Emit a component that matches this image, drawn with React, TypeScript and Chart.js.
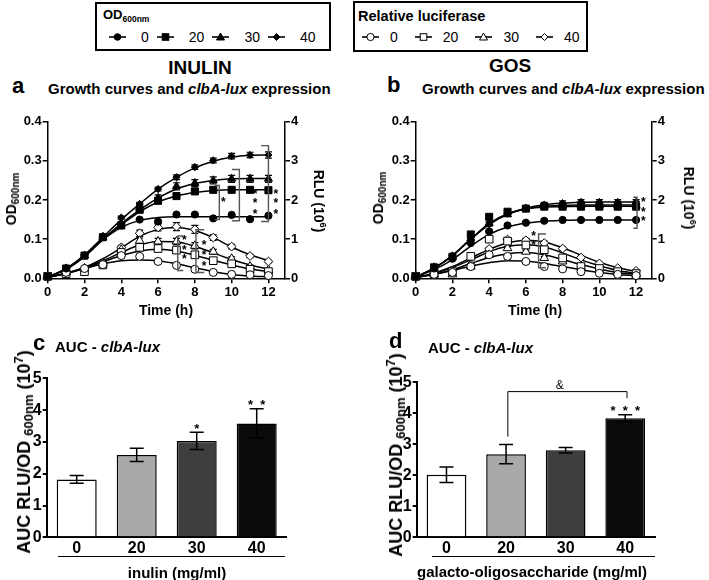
import React, { useEffect, useRef } from 'react';
import { Chart, registerables } from 'chart.js';

Chart.register(...registerables);

const FONT = "'Liberation Sans', Arial, Helvetica, sans-serif";
Chart.defaults.font.family = FONT;
Chart.defaults.color = '#000';

// ---------- data ----------
const HOURS = [0, 1, 2, 3, 4, 5, 6, 7, 8, 9, 10, 11, 12];
const X_TICKS = [0, 2, 4, 6, 8, 10, 12];
const OD_TICKS = [0, 0.1, 0.2, 0.3, 0.4];
const RLU_TICKS = [0, 1, 2, 3, 4];
const AUC_TICKS = [0, 1, 2, 3, 4, 5];
const CONC = ['0', '20', '30', '40'];

// Panel a (inulin) - OD600 points (0, 20, 30, 40 mg/ml)
const A_OD_0 = [0.005, 0.025, 0.058, 0.105, 0.135, 0.15, 0.145, 0.163, 0.163, 0.153, 0.162, 0.151, 0.16];
const A_OD_20 = [0.005, 0.025, 0.058, 0.105, 0.135, 0.175, 0.198, 0.21, 0.222, 0.226, 0.226, 0.226, 0.225];
const A_OD_30 = [0.005, 0.025, 0.058, 0.105, 0.14, 0.18, 0.205, 0.235, 0.243, 0.25, 0.254, 0.254, 0.254];
const A_OD_40 = [0.005, 0.025, 0.06, 0.108, 0.155, 0.19, 0.228, 0.258, 0.284, 0.301, 0.312, 0.315, 0.315];
const A_OD_FIT_0 = [0.003, 0.022, 0.055, 0.098, 0.13, 0.148, 0.155, 0.157, 0.157, 0.157, 0.157, 0.157, 0.157];
const A_OD_FIT_20 = [0.003, 0.024, 0.057, 0.1, 0.137, 0.17, 0.195, 0.21, 0.219, 0.224, 0.226, 0.226, 0.226];
const A_OD_FIT_30 = [0.003, 0.024, 0.057, 0.1, 0.14, 0.175, 0.205, 0.228, 0.242, 0.25, 0.254, 0.255, 0.255];
const A_OD_FIT_40 = [0.003, 0.025, 0.06, 0.105, 0.15, 0.19, 0.228, 0.258, 0.282, 0.299, 0.309, 0.314, 0.315];
const A_OD_ERR_0 = [0, 0, 0, 0, 0.002, 0.002, 0.003, 0.002, 0.002, 0.002, 0.002, 0.002, 0.002];
const A_OD_ERR_20 = [0, 0, 0, 0, 0.004, 0.005, 0.006, 0.006, 0.006, 0.006, 0.006, 0.006, 0.006];
const A_OD_ERR_30 = [0, 0, 0, 0, 0.005, 0.007, 0.008, 0.009, 0.009, 0.009, 0.009, 0.009, 0.009];
const A_OD_ERR_40 = [0, 0, 0, 0, 0.004, 0.004, 0.005, 0.006, 0.006, 0.006, 0.007, 0.007, 0.008];
// Panel a - relative luciferase (RLU x10^6)
const A_LUX_0 = [0.05, 0.15, 0.25, 0.35, 0.58, 0.56, 0.43, 0.33, 0.23, 0.15, 0.1, 0.09, 0.07];
const A_LUX_20 = [0.05, 0.12, 0.17, 0.34, 0.66, 0.79, 0.76, 0.72, 0.6, 0.45, 0.37, 0.23, 0.17];
const A_LUX_30 = [0.05, 0.15, 0.25, 0.38, 0.73, 0.96, 0.94, 0.94, 0.83, 0.68, 0.5, 0.3, 0.21];
const A_LUX_40 = [0.05, 0.15, 0.25, 0.4, 0.79, 1.15, 1.3, 1.32, 1.25, 1.04, 0.81, 0.57, 0.43];
const A_LUX_FIT_0 = [0.02, 0.12, 0.25, 0.37, 0.45, 0.47, 0.45, 0.37, 0.27, 0.17, 0.1, 0.06, 0.04];
const A_LUX_FIT_20 = [0.02, 0.13, 0.26, 0.42, 0.58, 0.7, 0.74, 0.7, 0.59, 0.46, 0.34, 0.24, 0.17];
const A_LUX_FIT_30 = [0.02, 0.13, 0.27, 0.45, 0.66, 0.85, 0.94, 0.93, 0.82, 0.65, 0.48, 0.34, 0.24];
const A_LUX_FIT_40 = [0.02, 0.13, 0.28, 0.5, 0.78, 1.07, 1.25, 1.3, 1.22, 1.04, 0.8, 0.6, 0.45];
const A_LUX_ERR_0 = [0, 0, 0, 0, 0.03, 0.04, 0.04, 0.04, 0.03, 0.03, 0.02, 0.02, 0.02];
const A_LUX_ERR_20 = [0, 0, 0, 0, 0.05, 0.06, 0.06, 0.07, 0.06, 0.05, 0.04, 0.03, 0.03];
const A_LUX_ERR_30 = [0, 0, 0, 0, 0.05, 0.07, 0.08, 0.08, 0.08, 0.06, 0.05, 0.04, 0.03];
const A_LUX_ERR_40 = [0, 0, 0, 0, 0.05, 0.08, 0.09, 0.1, 0.1, 0.07, 0.06, 0.04, 0.03];

// Panel b (GOS) - OD600
const B_OD_0 = [0.005, 0.025, 0.05, 0.09, 0.12, 0.135, 0.142, 0.147, 0.149, 0.149, 0.149, 0.149, 0.149];
const B_OD_20 = [0.005, 0.028, 0.055, 0.112, 0.157, 0.17, 0.178, 0.183, 0.183, 0.183, 0.183, 0.183, 0.183];
const B_OD_30 = [0.005, 0.028, 0.055, 0.102, 0.14, 0.163, 0.178, 0.185, 0.186, 0.186, 0.186, 0.186, 0.186];
const B_OD_40 = [0.005, 0.028, 0.058, 0.1, 0.138, 0.165, 0.178, 0.188, 0.192, 0.195, 0.195, 0.195, 0.195];
const B_OD_FIT_0 = [0.003, 0.022, 0.048, 0.082, 0.112, 0.131, 0.141, 0.146, 0.148, 0.149, 0.149, 0.149, 0.149];
const B_OD_FIT_20 = [0.003, 0.026, 0.058, 0.1, 0.14, 0.165, 0.177, 0.182, 0.183, 0.184, 0.184, 0.184, 0.184];
const B_OD_FIT_30 = [0.003, 0.026, 0.058, 0.1, 0.138, 0.163, 0.177, 0.184, 0.186, 0.187, 0.187, 0.187, 0.187];
const B_OD_FIT_40 = [0.003, 0.026, 0.058, 0.1, 0.138, 0.164, 0.179, 0.188, 0.192, 0.194, 0.195, 0.195, 0.195];
const B_OD_ERR_0 = [0, 0, 0, 0, 0.002, 0.002, 0.002, 0.002, 0.002, 0.002, 0.002, 0.002, 0.002];
const B_OD_ERR_20 = [0, 0, 0, 0, 0.004, 0.004, 0.004, 0.004, 0.004, 0.004, 0.004, 0.004, 0.004];
const B_OD_ERR_30 = [0, 0, 0, 0, 0.004, 0.004, 0.005, 0.005, 0.005, 0.005, 0.005, 0.005, 0.005];
const B_OD_ERR_40 = [0, 0, 0, 0, 0.004, 0.004, 0.005, 0.006, 0.006, 0.006, 0.006, 0.006, 0.006];
// Panel b - relative luciferase
const B_LUX_0 = [0.05, 0.1, 0.15, 0.3, 0.6, 0.56, 0.43, 0.3, 0.24, 0.17, 0.13, 0.1, 0.07];
const B_LUX_20 = [0.05, 0.12, 0.17, 0.56, 1.0, 0.95, 0.85, 0.73, 0.52, 0.3, 0.25, 0.17, 0.12];
const B_LUX_30 = [0.05, 0.1, 0.1, 0.3, 0.6, 0.77, 0.68, 0.52, 0.43, 0.3, 0.2, 0.14, 0.1];
const B_LUX_40 = [0.05, 0.13, 0.2, 0.35, 0.75, 0.99, 0.97, 0.9, 0.76, 0.53, 0.38, 0.26, 0.19];
const B_LUX_FIT_0 = [0.02, 0.1, 0.2, 0.31, 0.4, 0.45, 0.44, 0.38, 0.3, 0.22, 0.15, 0.1, 0.07];
const B_LUX_FIT_20 = [0.02, 0.12, 0.28, 0.47, 0.68, 0.82, 0.86, 0.8, 0.65, 0.47, 0.32, 0.2, 0.13];
const B_LUX_FIT_30 = [0.02, 0.1, 0.22, 0.38, 0.53, 0.63, 0.66, 0.6, 0.48, 0.35, 0.24, 0.15, 0.1];
const B_LUX_FIT_40 = [0.02, 0.13, 0.3, 0.52, 0.74, 0.9, 0.97, 0.93, 0.78, 0.59, 0.41, 0.27, 0.18];
const B_LUX_ERR_0 = [0, 0, 0, 0, 0.02, 0.03, 0.03, 0.03, 0.02, 0.02, 0.02, 0.01, 0.01];
const B_LUX_ERR_20 = [0, 0, 0, 0, 0.04, 0.05, 0.05, 0.05, 0.04, 0.03, 0.03, 0.02, 0.02];
const B_LUX_ERR_30 = [0, 0, 0, 0, 0.03, 0.04, 0.04, 0.04, 0.03, 0.03, 0.02, 0.02, 0.02];
const B_LUX_ERR_40 = [0, 0, 0, 0, 0.04, 0.05, 0.05, 0.05, 0.04, 0.03, 0.03, 0.02, 0.02];

// Panels c, d - AUC RLU/OD600 (x10^7)
const AUC_INULIN = [1.82, 2.59, 3.03, 3.58];
const AUC_INULIN_ERR = [0.12, 0.21, 0.27, 0.46];
const AUC_GOS = [2.02, 2.68, 2.81, 3.84];
const AUC_GOS_ERR = [0.25, 0.31, 0.09, 0.11];

// significance annotations (data units)
const A_BRACKETS = [
  { x: 9.33, y1: 0.237, y2: 0.15, tick: -0.25 },
  { x: 10.42, y1: 0.278, y2: 0.147, tick: -0.4 },
  { x: 12, y1: 0.339, y2: 0.145, tick: -0.4 },
  { x: 7.07, y1: 0.108, y2: 0.02, tick: 0.3 },
  { x: 8.06, y1: 0.124, y2: 0.015, tick: 0.45 },
];
const A_STARS = [
  [9.55, 0.2], [11.27, 0.222], [11.27, 0.197], [11.27, 0.171],
  [12.4, 0.222], [12.4, 0.197], [12.4, 0.171],
  [7.43, 0.103], [7.43, 0.079], [7.43, 0.056],
  [8.5, 0.091], [8.5, 0.066], [8.5, 0.038],
];
const B_BRACKETS = [
  { x: 12.05, y1: 0.207, y2: 0.128, tick: -0.2 },
  { x: 6.69, y1: 0.113, y2: 0.027, tick: 0.4 },
];
const B_STARS = [[12.4, 0.2], [12.4, 0.176], [12.4, 0.151], [6.42, 0.113], [6.42, 0.09]];
const C_MARKS = [{ x: 2, y: 3.5, t: '*' }, { x: 3, y: 4.25, t: '*  *' }];
const D_MARKS = [{ x: 3, y: 4.16, t: '*  *  *' }];
const D_AMP = { x: 1.9, y: 4.9, t: '&' };
const D_LINK = [[1.03, 3.25], [1.03, 4.7], [3.03, 4.7], [3.03, 4.49]];

// ---------- styles ----------
const OD_MARK = [
  { style: 'circle', r: 3.6 },
  { style: 'rect', r: 5 },
  { style: 'triangle', r: 4.6 },
  { style: 'rectRot', r: 3.6 },
];
const LUX_MARK = [
  { style: 'circle', r: 4 },
  { style: 'rect', r: 5.4 },
  { style: 'triangle', r: 5 },
  { style: 'rectRot', r: 4.4 },
];
const BAR_COLORS = ['#ffffff', '#a9a9a9', '#3e3e3e', '#0b0b0b'];

// ---------- plugins ----------
const errorBarPlugin = {
  id: 'errbars',
  draw(chart: any, after: boolean) {
    const ctx = chart.ctx;
    chart.data.datasets.forEach((ds: any, i: number) => {
      if (!ds.errors || !!ds.errAfter !== after) return;
      const meta = chart.getDatasetMeta(i);
      const ys = chart.scales[meta.yAxisID];
      ctx.save();
      ctx.strokeStyle = '#000';
      ctx.lineWidth = ds.errWidth || 1.2;
      meta.data.forEach((el: any, j: number) => {
        const e = ds.errors[j];
        if (!e) return;
        const raw = ds.data[j];
        const v = typeof raw === 'number' ? raw : raw.y;
        const x = el.x;
        const y1 = ys.getPixelForValue(v + e);
        const y2 = ys.getPixelForValue(v - e);
        const c = ds.capHalf || 3.5;
        ctx.beginPath();
        ctx.moveTo(x, y1); ctx.lineTo(x, y2);
        ctx.moveTo(x - c, y1); ctx.lineTo(x + c, y1);
        ctx.moveTo(x - c, y2); ctx.lineTo(x + c, y2);
        ctx.stroke();
      });
      ctx.restore();
    });
  },
  beforeDatasetsDraw(chart: any) { this.draw(chart, false); },
  afterDatasetsDraw(chart: any) { this.draw(chart, true); },
};

type Line = { pts: number[][]; color: string; width: number };
type Mark = { x: number; y: number; t: string; font: string; dy: number };

function annotPlugin(lines: Line[], marks: Mark[]) {
  return {
    id: 'annot',
    afterDraw(chart: any) {
      const ctx = chart.ctx;
      const xs = chart.scales.x;
      const ys = chart.scales.y;
      ctx.save();
      lines.forEach((l) => {
        ctx.strokeStyle = l.color;
        ctx.lineWidth = l.width;
        ctx.beginPath();
        l.pts.forEach(([px, py], k) => {
          const X = xs.getPixelForValue(px);
          const Y = ys.getPixelForValue(py);
          if (k) ctx.lineTo(X, Y); else ctx.moveTo(X, Y);
        });
        ctx.stroke();
      });
      ctx.fillStyle = '#000';
      ctx.textAlign = 'center';
      ctx.textBaseline = 'middle';
      marks.forEach((m) => {
        ctx.font = m.font;
        ctx.fillText(m.t, xs.getPixelForValue(m.x), ys.getPixelForValue(m.y) + m.dy);
      });
      ctx.restore();
    },
  };
}

const bracketLines = (bs: { x: number; y1: number; y2: number; tick: number }[]): Line[] =>
  bs.map((b) => ({
    pts: [[b.x + b.tick, b.y1], [b.x, b.y1], [b.x, b.y2], [b.x + b.tick, b.y2]],
    color: '#555',
    width: 1.4,
  }));
const starMarks = (ss: number[][]): Mark[] =>
  ss.map(([x, y]) => ({ x, y, t: '*', font: `bold 12px ${FONT}`, dy: 3 }));

// ---------- chart configs ----------
interface LineSpec {
  odPts: number[][]; odFit: number[][]; odErr: number[][];
  luxPts: number[][]; luxFit: number[][]; luxErr: number[][];
  xMax: number; leftW: number; rightW: number; bottomH: number; padTop: number;
}

const tickFont13 = { size: 13, weight: 'bold' as const, family: FONT };
const tickFont16 = { size: 16, weight: 'bold' as const, family: FONT };

function lineConfig(s: LineSpec, plugin: any) {
  const toXY = (vals: number[]) => HOURS.map((h, j) => ({ x: h, y: vals[j] }));
  const datasets: any[] = [];
  for (let i = 0; i < 4; i++) {
    datasets.push({
      data: toXY(s.odPts[i]), showLine: false, yAxisID: 'y', order: 0, clip: false,
      pointStyle: OD_MARK[i].style, pointRadius: OD_MARK[i].r, pointHoverRadius: OD_MARK[i].r,
      pointBackgroundColor: '#000', pointBorderColor: '#000', pointBorderWidth: 1,
      errors: s.odErr[i],
    });
    datasets.push({
      data: toXY(s.luxPts[i]), showLine: false, yAxisID: 'y2', order: 0, clip: false,
      pointStyle: LUX_MARK[i].style, pointRadius: LUX_MARK[i].r, pointHoverRadius: LUX_MARK[i].r,
      pointBackgroundColor: '#fff', pointBorderColor: '#000', pointBorderWidth: 1,
      errors: s.luxErr[i],
    });
    datasets.push({
      data: toXY(s.odFit[i]), yAxisID: 'y', order: 1, pointRadius: 0, pointHoverRadius: 0,
      borderColor: '#000', borderWidth: 1.5, cubicInterpolationMode: 'monotone', fill: false,
    });
    datasets.push({
      data: toXY(s.luxFit[i]), yAxisID: 'y2', order: 1, pointRadius: 0, pointHoverRadius: 0,
      borderColor: '#000', borderWidth: 1.5, cubicInterpolationMode: 'monotone', fill: false,
    });
  }
  const grid = { drawOnChartArea: false, color: '#000', lineWidth: 1.5, tickLength: 5 };
  const border = { color: '#000', width: 1.5 };
  return {
    type: 'line',
    data: { datasets },
    options: {
      animation: false, responsive: false, maintainAspectRatio: false,
      events: [],
      layout: { padding: { top: s.padTop, left: 0, right: 0, bottom: 0 } },
      plugins: { legend: { display: false }, tooltip: { enabled: false } },
      scales: {
        x: {
          type: 'linear', min: 0, max: s.xMax, grid, border,
          ticks: { font: tickFont13, color: '#000', padding: 1, maxRotation: 0 },
          afterBuildTicks: (sc: any) => { sc.ticks = X_TICKS.map((v) => ({ value: v })); },
          afterFit: (sc: any) => { sc.height = s.bottomH; },
        },
        y: {
          type: 'linear', position: 'left', min: 0, max: 0.4, grid, border,
          ticks: { font: tickFont13, color: '#000', padding: 1, callback: (v: any) => Number(v).toFixed(1) },
          afterBuildTicks: (sc: any) => { sc.ticks = OD_TICKS.map((v) => ({ value: v })); },
          afterFit: (sc: any) => { sc.width = s.leftW; },
        },
        y2: {
          type: 'linear', position: 'right', min: 0, max: 4, grid, border,
          ticks: { font: tickFont13, color: '#000', padding: 1, callback: (v: any) => String(v) },
          afterBuildTicks: (sc: any) => { sc.ticks = RLU_TICKS.map((v) => ({ value: v })); },
          afterFit: (sc: any) => { sc.width = s.rightW; },
        },
      },
    },
    plugins: [errorBarPlugin, plugin],
  };
}

function barConfig(vals: number[], errs: number[], o: { leftW: number; bottomH: number; padTop: number; padRight: number }, plugin: any) {
  return {
    type: 'bar',
    data: {
      labels: CONC,
      datasets: [{
        data: vals, backgroundColor: BAR_COLORS, borderColor: '#000', borderWidth: 1.5,
        barPercentage: 0.667, categoryPercentage: 1, errors: errs, errAfter: true, capHalf: 7, errWidth: 1.5,
      }],
    },
    options: {
      animation: false, responsive: false, maintainAspectRatio: false, events: [],
      layout: { padding: { top: o.padTop, right: o.padRight, left: 0, bottom: 0 } },
      plugins: { legend: { display: false }, tooltip: { enabled: false } },
      scales: {
        x: {
          type: 'category', grid: { display: false, drawTicks: false },
          border: { color: '#000', width: 2 },
          ticks: { font: tickFont16, color: '#000', padding: 2 },
          afterFit: (sc: any) => { sc.height = o.bottomH; },
        },
        y: {
          type: 'linear', min: 0, max: 5,
          grid: { drawOnChartArea: false, color: '#000', lineWidth: 2, tickLength: 4 },
          border: { color: '#000', width: 2 },
          ticks: { font: tickFont16, color: '#000', padding: 1, callback: (v: any) => String(v) },
          afterBuildTicks: (sc: any) => { sc.ticks = AUC_TICKS.map((v) => ({ value: v })); },
          afterFit: (sc: any) => { sc.width = o.leftW; },
        },
      },
    },
    plugins: [errorBarPlugin, plugin],
  };
}

// ---------- components ----------
function ChartCanvas({ left, top, width, height, make }: { left: number; top: number; width: number; height: number; make: () => any }) {
  const ref = useRef<HTMLCanvasElement>(null);
  useEffect(() => {
    const chart = new Chart(ref.current as HTMLCanvasElement, make());
    return () => chart.destroy();
  }, []);
  return (
    <canvas ref={ref} width={width} height={height}
      style={{ position: 'absolute', left, top, width, height }} />
  );
}

function Txt({ x, y, size, weight = 'bold', align = 'left', rotate = 0, children }: any) {
  const tx = align === 'center' || rotate ? '-50%' : align === 'right' ? '-100%' : '0';
  return (
    <div style={{
      position: 'absolute', left: x, top: y, fontSize: size, fontWeight: weight, lineHeight: 1,
      whiteSpace: 'nowrap', transform: `translate(${tx}, -50%)${rotate ? ` rotate(${rotate}deg)` : ''}`,
    }}>{children}</div>
  );
}

function Sym({ kind, open }: { kind: number; open: boolean }) {
  const fill = open ? '#fff' : '#000';
  const c = 8.5, m = 5;
  let shape: any;
  if (kind === 0) shape = <circle cx={c} cy={m} r={open ? 3.6 : 3.3} fill={fill} stroke="#000" strokeWidth={1} />;
  else if (kind === 1) shape = <rect x={c - 3.3} y={m - 3.3} width={6.6} height={6.6} fill={fill} stroke="#000" strokeWidth={1} />;
  else if (kind === 2) shape = <polygon points={`${c},${m - 4} ${c + 4},${m + 3} ${c - 4},${m + 3}`} fill={fill} stroke="#000" strokeWidth={1} />;
  else shape = <polygon points={`${c},${m - 3.5} ${c + 3.5},${m} ${c},${m + 3.5} ${c - 3.5},${m}`} fill={fill} stroke="#000" strokeWidth={1} />;
  return (
    <svg width={17} height={10} style={{ display: 'block' }}>
      <line x1={0} y1={m} x2={17} y2={m} stroke="#000" strokeWidth={1.6} />
      {shape}
    </svg>
  );
}

function LegendRow({ x, y, open, g1, g2 }: { x: number; y: number; open: boolean; g1: number; g2: number }) {
  return (
    <div style={{ position: 'absolute', left: x, top: y, transform: 'translateY(-50%)', display: 'flex', alignItems: 'center', fontSize: 14, lineHeight: 1, fontWeight: 'normal' }}>
      {CONC.map((c, i) => (
        <React.Fragment key={c}>
          <Sym kind={i} open={open} />
          <span style={{ marginLeft: g1, marginRight: i < 3 ? g2 : 0 }}>{c}</span>
        </React.Fragment>
      ))}
    </div>
  );
}

const Sub = ({ size, dy, children, weight = 'bold' }: any) => (
  <span style={{ fontSize: size, position: 'relative', top: dy, fontWeight: weight }}>{children}</span>
);

export default function App() {
  const aLines = bracketLines(A_BRACKETS);
  const aMarks = starMarks(A_STARS);
  const bLines = bracketLines(B_BRACKETS);
  const bMarks = starMarks(B_STARS);
  const cMarks: Mark[] = C_MARKS.map((m) => ({ ...m, font: `bold 13px ${FONT}`, dy: 3 }));
  const dMarks: Mark[] = [
    ...D_MARKS.map((m) => ({ ...m, font: `bold 13px ${FONT}`, dy: 3 })),
    { ...D_AMP, font: `12px ${FONT}`, dy: 0 },
  ];
  const dLines: Line[] = [{ pts: D_LINK, color: '#000', width: 1 }];

  const makeA = () => lineConfig({
    odPts: [A_OD_0, A_OD_20, A_OD_30, A_OD_40],
    odFit: [A_OD_FIT_0, A_OD_FIT_20, A_OD_FIT_30, A_OD_FIT_40],
    odErr: [A_OD_ERR_0, A_OD_ERR_20, A_OD_ERR_30, A_OD_ERR_40],
    luxPts: [A_LUX_0, A_LUX_20, A_LUX_30, A_LUX_40],
    luxFit: [A_LUX_FIT_0, A_LUX_FIT_20, A_LUX_FIT_30, A_LUX_FIT_40],
    luxErr: [A_LUX_ERR_0, A_LUX_ERR_20, A_LUX_ERR_30, A_LUX_ERR_40],
    xMax: 12.9, leftW: 47.7, rightW: 65, bottomH: 41.7, padTop: 11.7,
  }, annotPlugin(aLines, aMarks));

  const makeB = () => lineConfig({
    odPts: [B_OD_0, B_OD_20, B_OD_30, B_OD_40],
    odFit: [B_OD_FIT_0, B_OD_FIT_20, B_OD_FIT_30, B_OD_FIT_40],
    odErr: [B_OD_ERR_0, B_OD_ERR_20, B_OD_ERR_30, B_OD_ERR_40],
    luxPts: [B_LUX_0, B_LUX_20, B_LUX_30, B_LUX_40],
    luxFit: [B_LUX_FIT_0, B_LUX_FIT_20, B_LUX_FIT_30, B_LUX_FIT_40],
    luxErr: [B_LUX_ERR_0, B_LUX_ERR_20, B_LUX_ERR_30, B_LUX_ERR_40],
    xMax: 12.85, leftW: 55.7, rightW: 57.3, bottomH: 41.7, padTop: 11.7,
  }, annotPlugin(bLines, bMarks));

  const makeC = () => barConfig(AUC_INULIN, AUC_INULIN_ERR, { leftW: 46.7, bottomH: 22.7, padTop: 18.3, padRight: 63.3 }, annotPlugin([], cMarks));
  const makeD = () => barConfig(AUC_GOS, AUC_GOS_ERR, { leftW: 56.7, bottomH: 22.7, padTop: 22.3, padRight: 54 }, annotPlugin(dLines, dMarks));

  const odLabel = (
    <span>OD<Sub size={10} dy={3}>600nm</Sub></span>
  );
  const rluLabel = (
    <span>RLU (10<Sub size={9} dy={-6}>6</Sub>)</span>
  );
  const aucLabel = (
    <span>AUC RLU/OD <Sub size={13} dy={3}>600nm</Sub> (10<Sub size={13} dy={-7}>7</Sub>)</span>
  );
  const growth = (<span>Growth curves and <i>clbA-lux</i> expression</span>);
  const aucTitle = (<span>AUC - <i>clbA-lux</i></span>);

  return (
    <div style={{ position: 'absolute', left: 0, top: 0, width: 709, height: 580, background: '#fff', color: '#000', fontFamily: FONT, overflow: 'hidden' }}>
      {/* legend boxes */}
      <div style={{ position: 'absolute', left: 95, top: 2, width: 236, height: 49, border: '2px solid #000', boxSizing: 'border-box' }} />
      <Txt x={103} y={14} size={13}>OD<Sub size={8.5} dy={3}>600nm</Sub></Txt>
      <LegendRow x={109} y={36.5} open={false} g1={15} g2={8} />
      <div style={{ position: 'absolute', left: 353, top: 1, width: 235, height: 51, border: '2px solid #000', boxSizing: 'border-box' }} />
      <Txt x={358} y={16} size={14.5}>Relative luciferase</Txt>
      <LegendRow x={362} y={37} open={true} g1={11} g2={17} />

      {/* titles */}
      <Txt x={200} y={66.5} size={19} align="center">INULIN</Txt>
      <Txt x={510} y={65} size={19} align="center">GOS</Txt>
      <Txt x={12} y={86} size={22}>a</Txt>
      <Txt x={48} y={88} size={15}>{growth}</Txt>
      <Txt x={387} y={85} size={22}>b</Txt>
      <Txt x={422} y={88} size={15}>{growth}</Txt>

      {/* panel a */}
      <ChartCanvas left={0} top={110} width={350} height={210} make={makeA} />
      <Txt x={11} y={199} size={14} rotate={-90}>{odLabel}</Txt>
      <Txt x={319} y={201} size={14} rotate={90}>{rluLabel}</Txt>
      <Txt x={166} y={310} size={14} align="center">Time (h)</Txt>

      {/* panel b */}
      <ChartCanvas left={360} top={110} width={349} height={210} make={makeB} />
      <Txt x={378} y={198} size={14} rotate={-90}>{odLabel}</Txt>
      <Txt x={689} y={198} size={14} rotate={90}>{rluLabel}</Txt>
      <Txt x={535} y={310} size={14} align="center">Time (h)</Txt>

      {/* panel c */}
      <Txt x={33} y={343} size={22}>c</Txt>
      <Txt x={55} y={346} size={15}>{aucTitle}</Txt>
      <ChartCanvas left={0} top={360} width={350} height={200} make={makeC} />
      <Txt x={24} y={452} size={18} rotate={-90}>{aucLabel}</Txt>
      <div style={{ position: 'absolute', left: 58, top: 556, width: 227, borderTop: '1.5px solid #000' }} />
      <Txt x={177} y={572} size={15} align="center">inulin (mg/ml)</Txt>

      {/* panel d */}
      <Txt x={389} y={341} size={22}>d</Txt>
      <Txt x={428} y={347} size={15}>{aucTitle}</Txt>
      <ChartCanvas left={360} top={360} width={349} height={200} make={makeD} />
      <Txt x={396} y={455} size={18} rotate={-90}>{aucLabel}</Txt>
      <div style={{ position: 'absolute', left: 432, top: 556, width: 223, borderTop: '1.5px solid #000' }} />
      <Txt x={532} y={571} size={15} align="center">galacto-oligosaccharide (mg/ml)</Txt>
    </div>
  );
}
